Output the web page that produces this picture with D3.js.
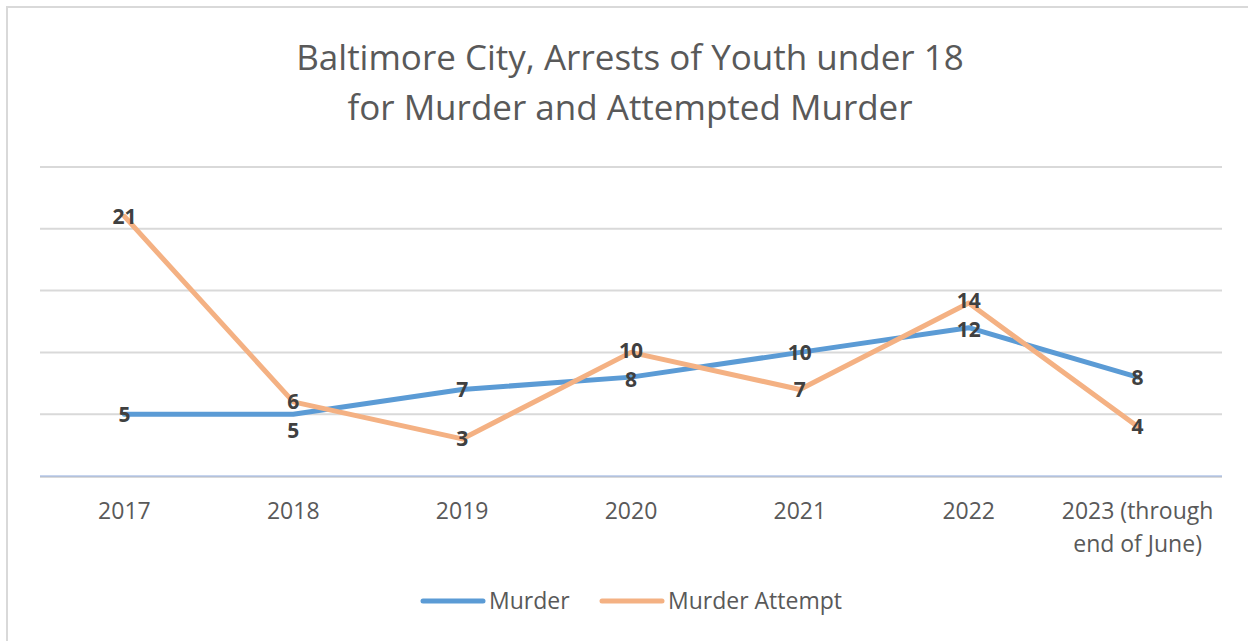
<!DOCTYPE html>
<html lang="en">
<head>
  <meta charset="utf-8">
  <title>Baltimore City, Arrests of Youth under 18</title>
  <script src="https://d3js.org/d3.v7.min.js"></script>
  <style>
    body {
      margin: 0;
      background: #fff;
      font-family: "Open Sans", "Noto Sans", sans-serif;
    }
    .grid line { stroke: #d9d9d9; stroke-width: 2px; }
    .tick-label { fill: #595959; font-size: 23px; }
    .data-label { fill: #404040; font-size: 21px; font-weight: bold; }
    .legend-text { fill: #595959; font-size: 23px; }
  </style>
</head>
<body>
  <div id="chart"></div>
  <script>
    // Data
    const years = ["2017", "2018", "2019", "2020", "2021", "2022", "2023 (through end of June)"];
    const murder = [5, 5, 7, 8, 10, 12, 8];
    const murderAttempt = [21, 6, 3, 10, 7, 14, 4];
    const gridValues = [0, 5, 10, 15, 20, 25];
    const titleLines = ["Baltimore City, Arrests of Youth under 18", "for Murder and Attempted Murder"];

    const series = [
      { name: "Murder", values: murder, color: "#5b9bd5" },
      { name: "Murder Attempt", values: murderAttempt, color: "#f4b183" }
    ];

    const width = 1248, height = 641;
    const plot = { left: 40, right: 1222, top: 167, bottom: 476 };

    const svg = d3.select("#chart").append("svg")
      .attr("width", width)
      .attr("height", height);

    // chart frame (only top and left edges show in the picture)
    svg.append("line").attr("x1", 7).attr("x2", 7).attr("y1", 6).attr("y2", height)
      .attr("stroke", "#d9d9d9").attr("stroke-width", 2);
    svg.append("line").attr("x1", 6).attr("x2", width).attr("y1", 7).attr("y2", 7)
      .attr("stroke", "#d9d9d9").attr("stroke-width", 2);

    // title
    svg.append("text")
      .attr("x", 630)
      .attr("text-anchor", "middle")
      .style("font-size", "35px")
      .style("fill", "#595959")
      .selectAll("tspan")
      .data(titleLines)
      .join("tspan")
      .attr("x", 630)
      .attr("y", (d, i) => 70 + i * 50)
      .text(d => d);

    const x = d3.scalePoint()
      .domain(years)
      .range([plot.left, plot.right])
      .padding(0.5);

    const y = d3.scaleLinear()
      .domain([0, 25])
      .range([plot.bottom, plot.top]);

    // horizontal gridlines
    svg.append("g").attr("class", "grid")
      .selectAll("line")
      .data(gridValues.filter(v => v > 0))
      .join("line")
      .attr("x1", plot.left).attr("x2", plot.right)
      .attr("y1", d => y(d)).attr("y2", d => y(d));

    // category axis line
    svg.append("line")
      .attr("x1", plot.left).attr("x2", plot.right)
      .attr("y1", y(0) + 1).attr("y2", y(0) + 1)
      .attr("stroke", "#d9d9d9").attr("stroke-width", 2);
    svg.append("line")
      .attr("x1", plot.left).attr("x2", plot.right)
      .attr("y1", y(0)).attr("y2", y(0))
      .attr("stroke", "#8faadc").attr("stroke-width", 1);

    // category labels, wrapped the way Excel does it
    const wrapLabel = d => d.startsWith("2023") ? ["2023 (through", "end of June)"] : [d];
    svg.append("g")
      .selectAll("text")
      .data(years)
      .join("text")
      .attr("class", "tick-label")
      .attr("text-anchor", "middle")
      .each(function (d) {
        d3.select(this).selectAll("tspan")
          .data(wrapLabel(d))
          .join("tspan")
          .attr("x", x(d))
          .attr("y", (t, i) => 519 + i * 33)
          .text(t => t);
      });

    // lines
    const line = d3.line()
      .x((d, i) => x(years[i]))
      .y(d => y(d));

    svg.append("g")
      .selectAll("path")
      .data(series)
      .join("path")
      .attr("fill", "none")
      .attr("stroke", d => d.color)
      .attr("stroke-width", 5)
      .attr("stroke-linejoin", "round")
      .attr("stroke-linecap", "round")
      .attr("d", d => line(d.values));

    // data labels, centred on the points; pull the two apart when they collide
    const minGap = 29;
    const labelPos = years.map((yr, i) => {
      let a = y(murderAttempt[i]);
      let m = y(murder[i]);
      const gap = Math.abs(m - a);
      if (gap < minGap) {
        if (gap < 16) {
          m = a + minGap;           // nearly the same spot: drop Murder below
        } else {
          const shift = (minGap - gap) / 2;
          if (m > a) { m += shift; a -= shift; } else { m -= shift; a += shift; }
        }
      }
      return [m, a];
    });

    const labels = svg.append("g");
    series.forEach((s, si) => {
      s.values.forEach((v, i) => {
        labels.append("text")
          .attr("class", "data-label")
          .attr("x", x(years[i]))
          .attr("y", labelPos[i][si])
          .attr("dy", "0.36em")
          .attr("text-anchor", "middle")
          .text(v);
      });
    });

    // legend
    const legendX = [423, 602];
    const legend = svg.append("g")
      .selectAll("g")
      .data(series)
      .join("g")
      .attr("transform", (d, i) => `translate(${legendX[i]}, 601)`);
    legend.append("line")
      .attr("x1", 0).attr("x2", 60)
      .attr("stroke", d => d.color)
      .attr("stroke-width", 5)
      .attr("stroke-linecap", "round");
    legend.append("text")
      .attr("class", "legend-text")
      .attr("x", 66)
      .attr("dy", "0.36em")
      .text(d => d.name);
  </script>
</body>
</html>
